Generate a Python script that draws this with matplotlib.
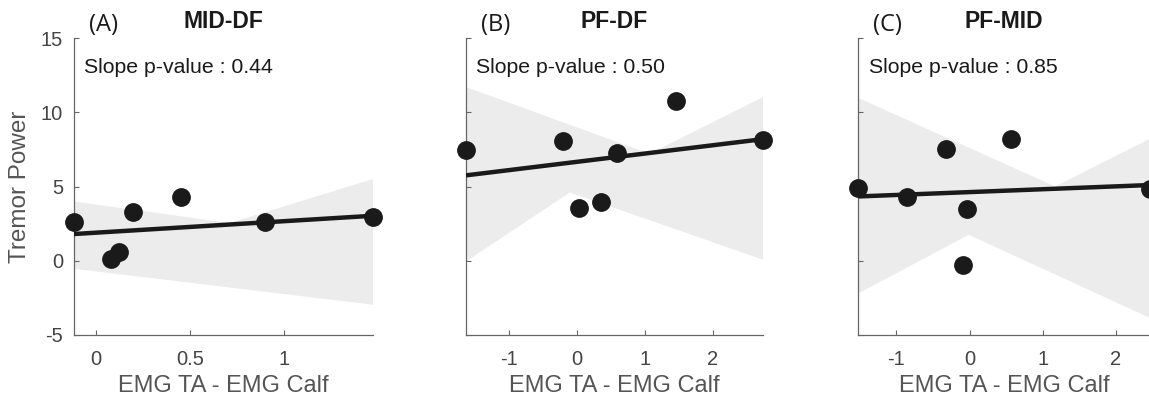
import matplotlib
matplotlib.use('Agg')
import matplotlib.pyplot as plt
from matplotlib import font_manager as fm
import numpy as np

plt.rcParams['font.family'] = ['Liberation Sans', 'DejaVu Sans']

# panel labels / titles / p-values
panels = ['(A)', '(B)', '(C)']
titles = ['MID-DF', 'PF-DF', 'PF-MID']
pvals = ['0.44', '0.50', '0.85']

# EMG TA - EMG Calf (x) vs Tremor Power (y)
x_a = [-0.117, 0.081, 0.124, 0.195, 0.449, 0.895, 1.47]
y_a = [2.58, 0.11, 0.56, 3.30, 4.26, 2.60, 2.96]
x_b = [-1.63, -0.197, 0.038, 0.357, 0.597, 1.456, 2.74]
y_b = [7.43, 8.06, 3.55, 3.95, 7.23, 10.77, 8.13]
x_c = [-1.52, -0.85, -0.318, -0.04, -0.09, 0.569, 2.47]
y_c = [4.89, 4.31, 7.52, 3.48, -0.27, 8.22, 4.85]

# fitted line, value at left and right end of x range
fit_a = [1.80, 3.03]
fit_b = [5.75, 8.19]
fit_c = [4.33, 5.10]

# confidence band outline (upper edge and lower edge)
band_a_up_x = [-0.117, 0.71, 1.47]
band_a_up = [3.99, 2.54, 5.50]
band_a_lo_x = [-0.117, 1.47]
band_a_lo = [-0.54, -2.96]
band_b_up_x = [-1.63, 1.07, 2.74]
band_b_up = [11.70, 7.20, 11.02]
band_b_lo_x = [-1.63, -0.10, 2.74]
band_b_lo = [-0.04, 4.60, 0.07]
band_c_up_x = [-1.52, 1.17, 2.47]
band_c_up = [10.96, 5.00, 8.23]
band_c_lo_x = [-1.52, -0.01, 2.47]
band_c_lo = [-2.20, 1.75, -3.86]

xticks_a = [0, 0.5, 1]
xticks_bc = [-1, 0, 1, 2]
xticklabels_a = ['0', '0.5', '1']
xticklabels_bc = ['-1', '0', '1', '2']
yticks = [-5, 0, 5, 10, 15]

data = [
    (x_a, y_a, fit_a, band_a_up_x, band_a_up, band_a_lo_x, band_a_lo, xticks_a, xticklabels_a),
    (x_b, y_b, fit_b, band_b_up_x, band_b_up, band_b_lo_x, band_b_lo, xticks_bc, xticklabels_bc),
    (x_c, y_c, fit_c, band_c_up_x, band_c_up, band_c_lo_x, band_c_lo, xticks_bc, xticklabels_bc),
]

# pick the regular-width Liberation Sans Bold (not the Narrow one)
bold_path = None
for f in fm.fontManager.ttflist:
    if f.name == 'Liberation Sans' and f.weight in (700, 'bold') and f.style == 'normal':
        bold_path = f.fname
if bold_path:
    title_font = fm.FontProperties(fname=bold_path, size=16.5)
else:
    title_font = fm.FontProperties(family='DejaVu Sans', weight='bold', size=15)

fig = plt.figure(figsize=(11.49, 4), dpi=100)
lefts = [74, 466, 858.3]
widths = [299, 297, 292]

for i, (xs, ys, fit, ux, uy, lx, ly, xt, xtl) in enumerate(data):
    ax = fig.add_axes([lefts[i] / 1149, 65 / 400, widths[i] / 1149, 297 / 400])
    xs = np.array(xs)
    x0, x1 = xs.min(), xs.max()

    # band
    px = list(ux) + list(lx)[::-1]
    py = list(uy) + list(ly)[::-1]
    ax.fill(px, py, color='#ececec', lw=0, zorder=1)

    ax.plot([x0, x1], fit, color='#1a1a1a', lw=3.2, zorder=3, solid_capstyle='butt')
    ax.plot(xs, ys, 'o', color='#1a1a1a', ms=12.5, zorder=4, clip_on=False)

    ax.set_xlim(x0, x1)
    ax.set_ylim(-5, 15)
    ax.set_xticks(xt)
    ax.set_xticklabels(xtl)
    ax.set_yticks(yticks)
    if i == 0:
        ax.set_yticklabels(['-5', '0', '5', '10', '15'])
        ax.set_ylabel('Tremor Power', fontsize=17.5, color='#555555', labelpad=7)
    else:
        ax.set_yticklabels([])

    for s in ['top', 'right']:
        ax.spines[s].set_visible(False)
    for s in ['left', 'bottom']:
        ax.spines[s].set_color('#666666')
        ax.spines[s].set_linewidth(0.9)
    ax.tick_params(direction='in', length=3.5, width=0.8, color='#666666',
                   labelcolor='#444444', labelsize=14.5)
    ax.tick_params(axis='x', pad=11)
    ax.tick_params(axis='y', pad=8)
    ax.set_xlabel('EMG TA - EMG Calf', fontsize=17, color='#555555', labelpad=4)

    ax.text(0.05, 1.045, panels[i], transform=ax.transAxes, fontsize=17,
            family=['Open Sans', 'DejaVu Sans'], color='#1a1a1a', ha='left', va='center')
    ax.text(0.5, 1.055, titles[i], transform=ax.transAxes, fontproperties=title_font,
            color='#1a1a1a', ha='center', va='center')
    ax.text(0.035, 0.899, 'Slope p-value : ' + pvals[i], transform=ax.transAxes,
            fontsize=15.3, color='#1a1a1a', ha='left', va='center')

fig.savefig('out.png', dpi=100)
